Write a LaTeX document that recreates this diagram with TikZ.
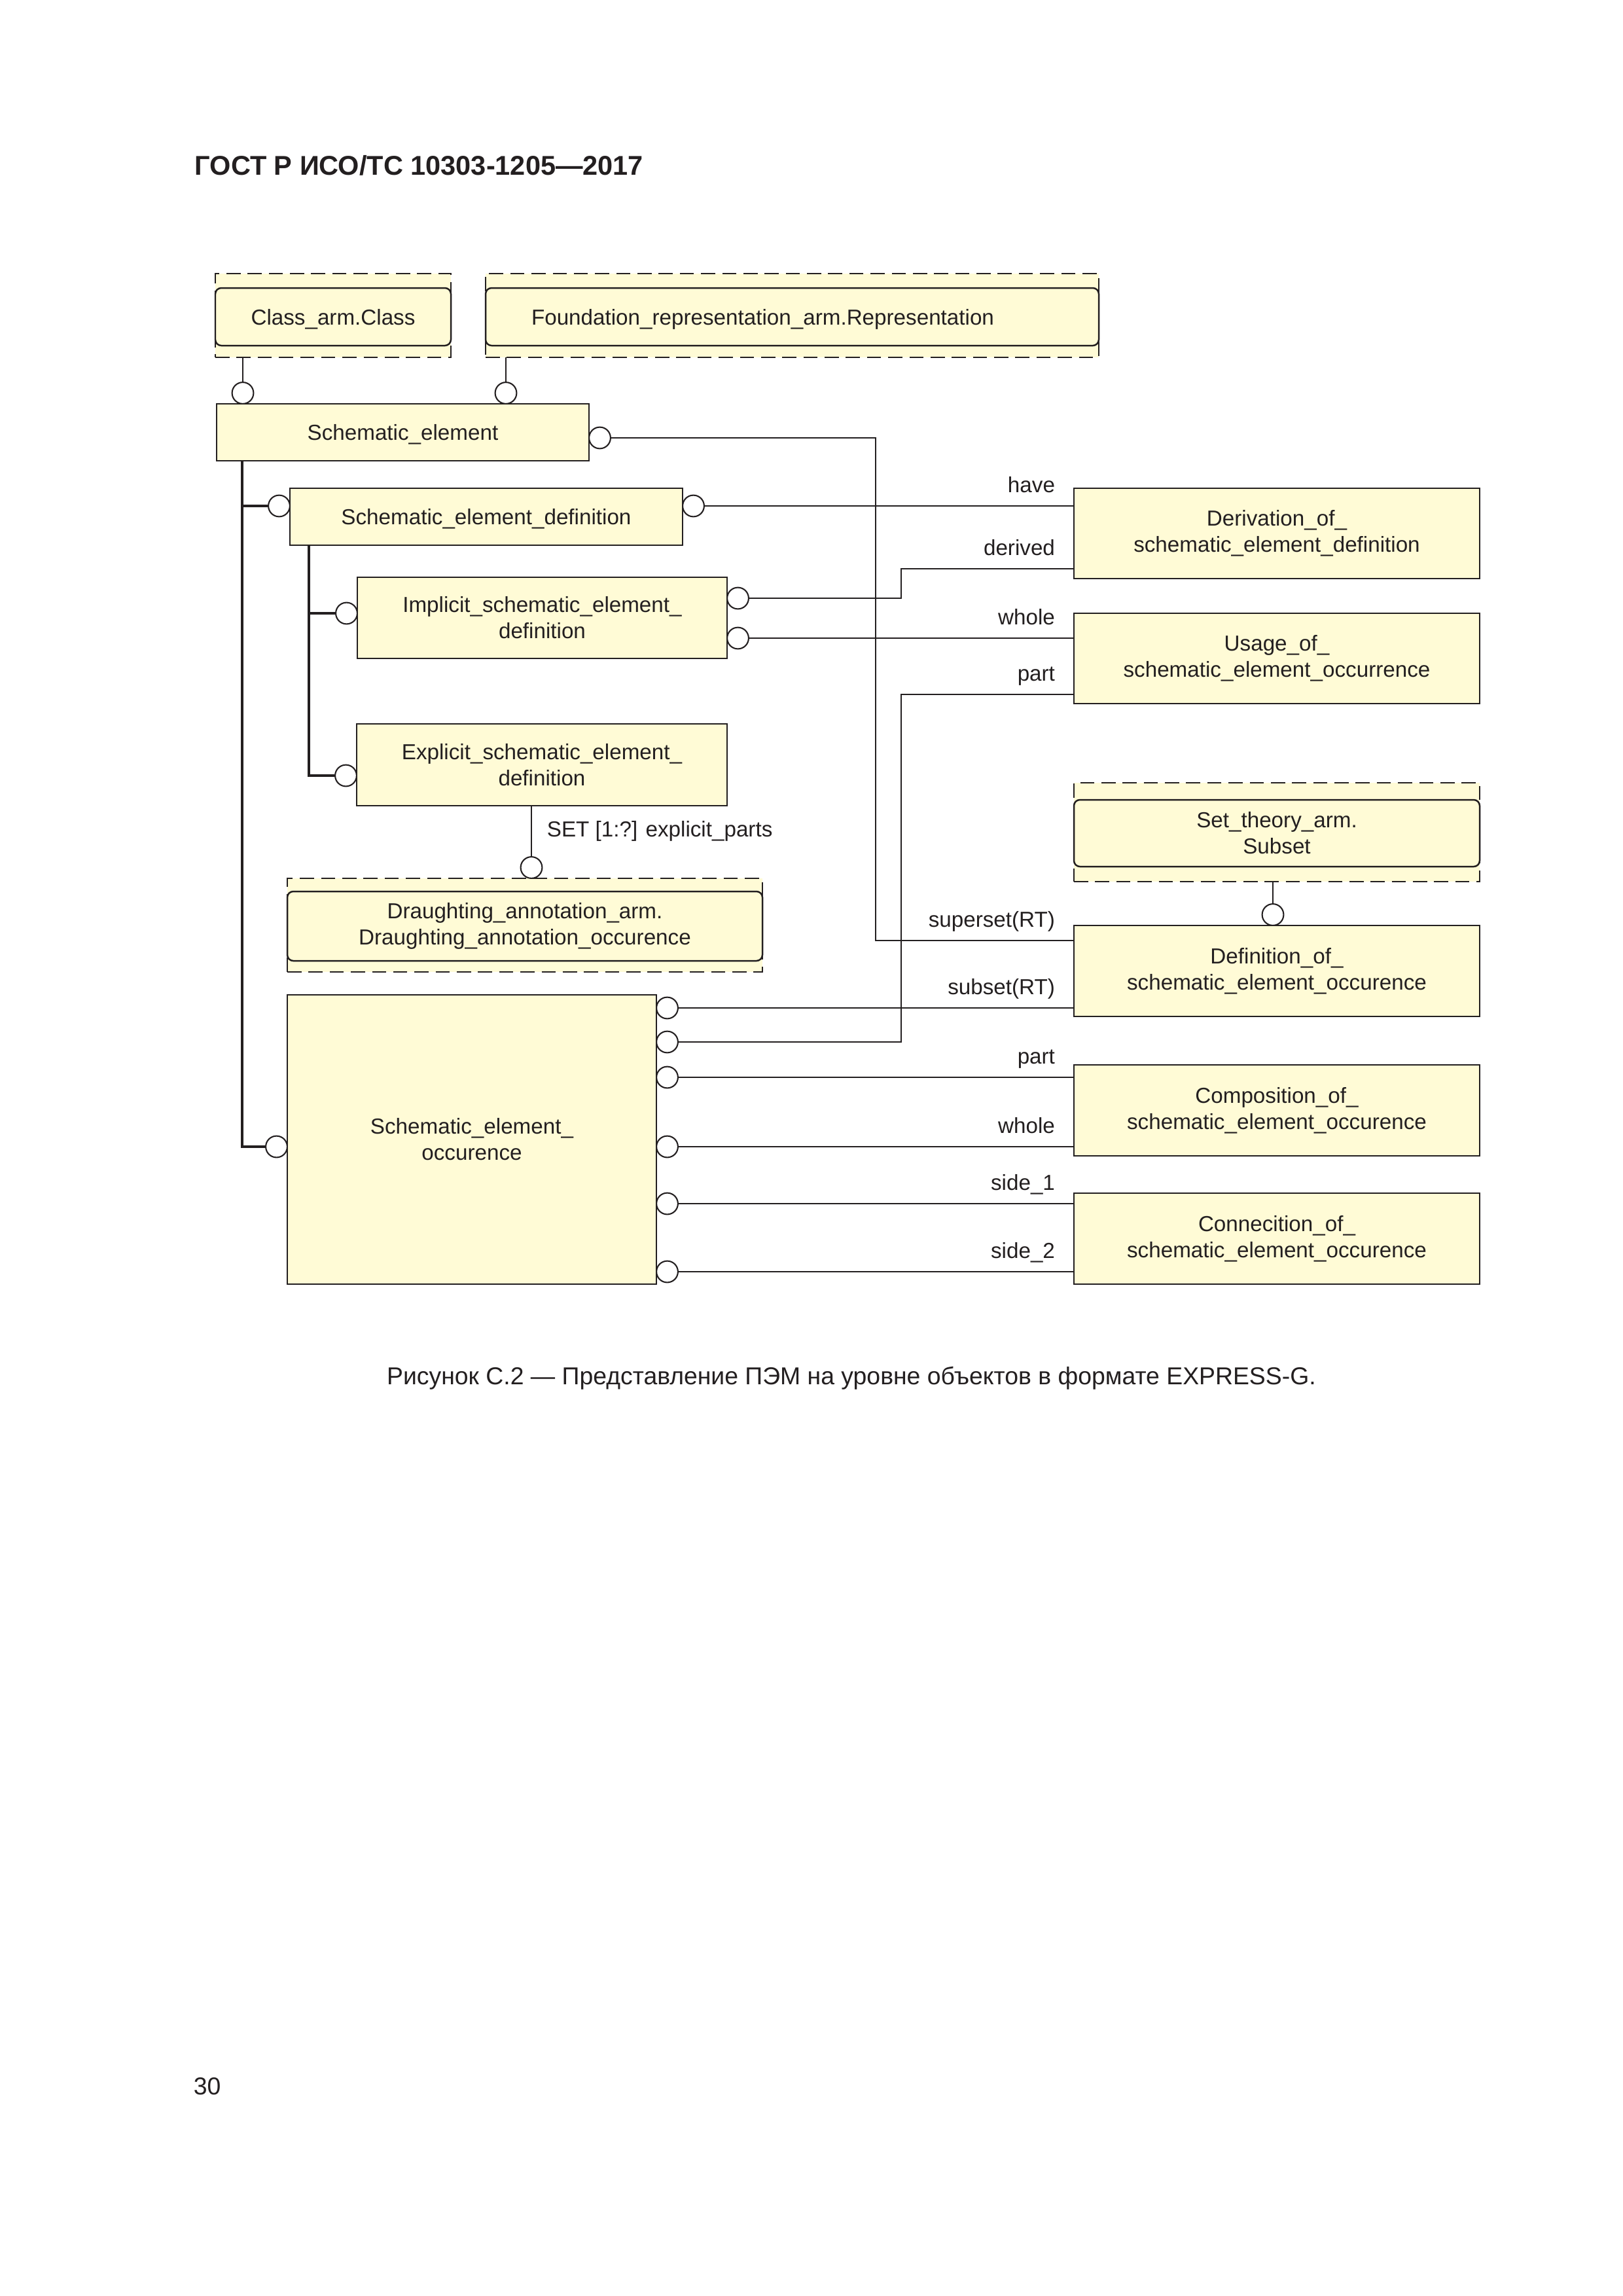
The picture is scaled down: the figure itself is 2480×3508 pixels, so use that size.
\documentclass[tikz,border=0pt]{standalone}
\usepackage{fontspec}
\setmainfont{Liberation Sans}

\definecolor{linecol}{RGB}{35,31,32}
\definecolor{entfill}{RGB}{255,251,214}
\newcommand\boxfont{\fontsize{8}{9.6}\selectfont}
\newcommand\pxu{0.2409pt}

\tikzset{
  sz/.style 2 args={minimum width=#1*\pxu, minimum height=#2*\pxu},
  ent/.style={draw=linecol, line width=0.6pt, fill=entfill, inner sep=0pt, outer sep=0pt, align=center, font=\boxfont, text=linecol},
  oneline/.style={text depth=0pt},
  refframe/.style={draw=linecol, line width=0.6pt, dash pattern=on 5.2pt off 2.6pt, fill=entfill, inner sep=0pt, outer sep=0pt},
  refbox/.style={ent, rounded corners=2.2pt},
  ring/.style={circle, draw=linecol, fill=white, line width=0.5pt, inner sep=0pt, outer sep=0pt, minimum size=7.9pt},
  conn/.style={draw=linecol, line width=0.5pt},
  tree/.style={draw=linecol, line width=1.1pt},
  lbl/.style={pos=1, anchor=base east, shift={(-28,21)}, inner sep=0pt, font=\boxfont, text=linecol}
}

\begin{document}
\begin{tikzpicture}[x=0.2409pt,y=0.2409pt,yscale=-1,xscale=1]
\useasboundingbox (0,0) rectangle (2480,3508);
\fill[white] (0,0) rectangle (2480,3508);

% Text Node
\node[anchor=base west, inner sep=0pt, font=\fontsize{10}{12}\selectfont\bfseries, text=linecol] (hdr) at (297,267) {ГОСТ Р ИСО/ТС 10303-1205—2017};

%Shape: Schema reference boxes
\node[refframe, sz={360}{128}] (clsref) at (509,482) {};
\node[refbox, oneline, sz={360}{88}] (cls) at (509,484) {Class\_arm.Class};
\node[refframe, sz={937}{128}] (fndref) at (1210.5,482) {};
\node[refbox, oneline, sz={937}{88}, text width=192pt, align=left] (fnd) at (1210.5,484) {Foundation\_representation\_arm.Representation};
\node[refframe, sz={726}{143}] (daref) at (802,1413.5) {};
\node[refbox, sz={726}{106}] (da) at (802,1415) {Draughting\_annotation\_arm.\\Draughting\_annotation\_occurence};
\node[refframe, sz={620}{151}] (stref) at (1951,1271.5) {};
\node[refbox, sz={620}{102}] (st) at (1951,1273) {Set\_theory\_arm.\\Subset};

%Shape: Rectangle
\node[ent, oneline, sz={569}{87}] (se) at (615.5,660.5) {Schematic\_element};
\node[ent, oneline, sz={600}{87}] (sed) at (743,789.5) {Schematic\_element\_definition};
\node[ent, sz={565}{124}] (ised) at (828.5,944) {Implicit\_schematic\_element\_\\definition};
\node[ent, sz={566}{125}] (esed) at (828,1168.5) {Explicit\_schematic\_element\_\\definition};
\node[ent, sz={564}{442}] (seo) at (721,1741) {Schematic\_element\_\\occurence};
\node[ent, sz={620}{138}] (dsed) at (1951,815) {Derivation\_of\_\\schematic\_element\_definition};
\node[ent, sz={620}{138}] (useo) at (1951,1006) {Usage\_of\_\\schematic\_element\_occurrence};
\node[ent, sz={620}{139}] (dseo) at (1951,1483.5) {Definition\_of\_\\schematic\_element\_occurence};
\node[ent, sz={620}{139}] (cseo) at (1951,1696.5) {Composition\_of\_\\schematic\_element\_occurence};
\node[ent, sz={620}{139}] (cnseo) at (1951,1892.5) {Connecition\_of\_\\schematic\_element\_occurence};

%Shape: Circle
\node[ring] (cca) at (371,600.5) {};
\node[ring] (ccb) at (773,600.5) {};
\node[ring] (sec) at (916.5,669) {};
\node[ring] (sdl) at (426.5,773) {};
\node[ring] (sdr) at (1059.5,773) {};
\node[ring] (isl) at (529.5,937) {};
\node[ring] (isr1) at (1127.5,914) {};
\node[ring] (isr2) at (1127.5,975) {};
\node[ring] (esl) at (528.5,1185) {};
\node[ring] (dac) at (812,1325.5) {};
\node[ring] (ccs) at (1945,1397.5) {};
\node[ring] (sol) at (422.5,1752) {};
\node[ring] (sor1) at (1019.5,1540) {};
\node[ring] (sor2) at (1019.5,1592) {};
\node[ring] (sor3) at (1019.5,1646) {};
\node[ring] (sor4) at (1019.5,1752) {};
\node[ring] (sor5) at (1019.5,1839) {};
\node[ring] (sor6) at (1019.5,1943) {};

\coordinate (trA) at (370,0);
\coordinate (trB) at (472,0);
\coordinate (jogA) at (1338,0);
\coordinate (jogB) at (1377,0);
\coordinate (inDer) at (1641,869);
\coordinate (inPart) at (1641,1061);
\coordinate (inSup) at (1641,1437);

%Straight Lines: subtype trees
\draw[tree] (se.south -| trA) |- (sdl);
\draw[tree] (se.south -| trA) |- (sol);
\draw[tree] (sed.south -| trB) |- (isl);
\draw[tree] (sed.south -| trB) |- (esl);

%Straight Lines: references
\draw[conn] (clsref.south -| cca) -- (cca);
\draw[conn] (fndref.south -| ccb) -- (ccb);
\draw[conn] (stref.south -| ccs) -- (ccs);
\draw[conn] (esed.south -| dac) -- (dac) node[pos=0.5, anchor=west, inner sep=0pt, xshift=5.5pt, font=\boxfont, text=linecol] {SET [1:?] explicit\_parts};

%Straight Lines: attributes
\draw[conn] (sec) -- (sec -| jogA) |- (inSup) node[lbl] {superset(RT)};
\draw[conn] (sdr) -- (sdr -| dsed.west) node[lbl] {have};
\draw[conn] (isr1) -- (isr1 -| jogB) |- (inDer) node[lbl] {derived};
\draw[conn] (isr2) -- (isr2 -| useo.west) node[lbl] {whole};
\draw[conn] (sor2) -- (sor2 -| jogB) |- (inPart) node[lbl] {part};
\draw[conn] (sor1) -- (sor1 -| dseo.west) node[lbl] {subset(RT)};
\draw[conn] (sor3) -- (sor3 -| cseo.west) node[lbl] {part};
\draw[conn] (sor4) -- (sor4 -| cseo.west) node[lbl] {whole};
\draw[conn] (sor5) -- (sor5 -| cnseo.west) node[lbl] {side\_1};
\draw[conn] (sor6) -- (sor6 -| cnseo.west) node[lbl] {side\_2};

% Text Node
\node[anchor=base, inner sep=0pt, font=\fontsize{9}{11}\selectfont, text=linecol] (cap) at (1301,2115) {Рисунок С.2 — Представление ПЭМ на уровне объектов в формате EXPRESS-G.};
% Text Node
\node[anchor=base west, inner sep=0pt, font=\fontsize{9}{11}\selectfont, text=linecol] (pg) at (295,3200) {30};

\end{tikzpicture}
\end{document}
